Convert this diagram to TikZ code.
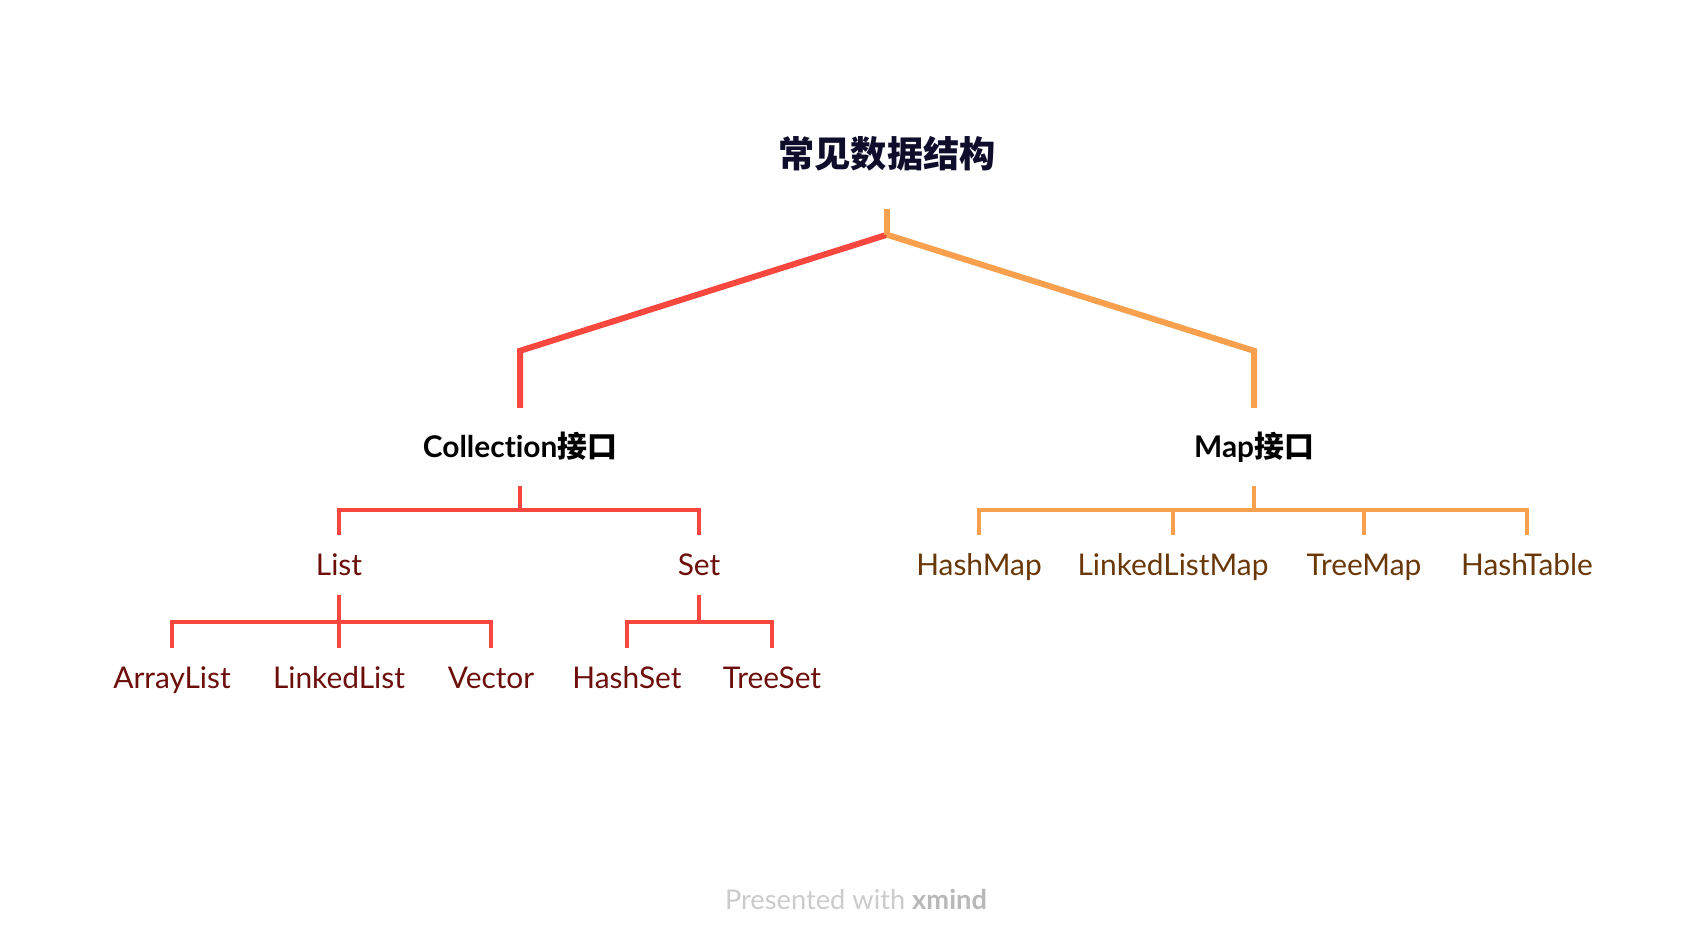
\documentclass[tikz,border=0pt]{standalone}
\usepackage{fontspec}
\setmainfont{Lato}[Ligatures=NoCommon]
\newfontfamily\cjk{Noto Sans CJK SC}
\definecolor{redline}{HTML}{F8473F}
\definecolor{orangeline}{HTML}{F8A04E}
\definecolor{titlecol}{HTML}{0E0E2C}
\definecolor{redtext}{HTML}{6C0E0A}
\definecolor{browntext}{HTML}{6A3808}
\definecolor{footgray}{HTML}{CBCBCB}
\definecolor{footdark}{HTML}{B8B8B8}
\tikzset{
  rootnode/.style={inner sep=0pt,font=\cjk\bfseries\fontsize{10.3}{12}\selectfont,text=titlecol,text height=7.8pt,text depth=0pt,minimum height=10.8mm},
  ifnode/.style={inner sep=0pt,font=\bfseries\fontsize{8.5}{10}\selectfont,text height=6.1pt,text depth=0pt,minimum height=7.7mm},
  leafnode/.style={inner sep=0pt,font=\fontsize{8.5}{10}\selectfont,text=redtext,text height=6.1pt,text depth=0pt,minimum height=5.8mm},
  mapleaf/.style={leafnode,text=browntext},
  redbranch/.style={draw=redline,line width=0.6mm},
  orangebranch/.style={draw=orangeline,line width=0.6mm},
  redtwig/.style={draw=redline,line width=0.4mm},
  orangetwig/.style={draw=orangeline,line width=0.4mm}
}
\begin{document}
\begin{tikzpicture}[x=0.1mm,y=-0.1mm]
\useasboundingbox (0,0) rectangle (1708,948);

\node[rootnode] (title) at (887,154) {常见数据结构};
\node[ifnode] (coll) at (520,447) {Collection{\cjk 接口}};
\node[ifnode] (map) at (1254,447) {Map{\cjk 接口}};

\node[leafnode] (list) at (339,565) {List};
\node[leafnode] (set) at (699,565) {Set};
\node[mapleaf] (hashmap) at (979,565) {HashMap};
\node[mapleaf] (llmap) at (1173,565) {LinkedListMap};
\node[mapleaf] (treemap) at (1364,565) {TreeMap};
\node[mapleaf] (hashtable) at (1527,565) {HashTable};

\node[leafnode] (arraylist) at (172,678) {ArrayList};
\node[leafnode] (linkedlist) at (339,678) {LinkedList};
\node[leafnode] (vector) at (491,678) {Vector};
\node[leafnode] (hashset) at (627,678) {HashSet};
\node[leafnode] (treeset) at (772,678) {TreeSet};

\node[inner sep=0pt,font=\fontsize{7.75}{9}\selectfont,text=footgray] (foot) at (856,899)
  {Presented with {\color{footdark}\bfseries xmind}};

\path (title.south) ++(0,26) coordinate (fork);
\draw[redbranch] (coll.north) -- ++(0,-57) -- (fork);
\draw[orangebranch] (map.north) -- ++(0,-57) -- (fork);
\draw[orangebranch] (title.south) -- (fork);

\foreach \c in {list,set}{
  \draw[redtwig] (coll.south) -- ++(0,24) -| (\c.north);
}
\foreach \c in {hashmap,llmap,treemap,hashtable}{
  \draw[orangetwig] (map.south) -- ++(0,24) -| (\c.north);
}
\foreach \c in {arraylist,linkedlist,vector}{
  \draw[redtwig] (list.south) -- ++(0,27) -| (\c.north);
}
\foreach \c in {hashset,treeset}{
  \draw[redtwig] (set.south) -- ++(0,27) -| (\c.north);
}
\end{tikzpicture}
\end{document}
